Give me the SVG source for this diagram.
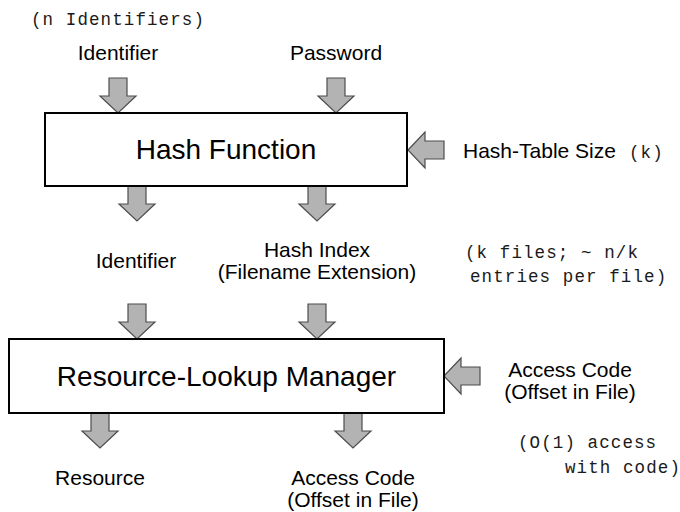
<svg xmlns="http://www.w3.org/2000/svg" xmlns:xlink="http://www.w3.org/1999/xlink" width="680" height="512" viewBox="0 0 680 512">
  <style>
    .box { fill: #ffffff; stroke: #000000; stroke-width: 2; }
    .title { font-family: "Liberation Sans", Arial, sans-serif; font-size: 28px; fill: #000000; text-anchor: middle; }
    .label { font-family: "Liberation Sans", Arial, sans-serif; font-size: 21px; fill: #000000; }
    .mid { text-anchor: middle; }
    .mono { font-family: "Liberation Mono", "Courier New", monospace; font-size: 17.5px; letter-spacing: 1.1px; fill: #1a1a1a; }
    .blk { fill: #b3b3b3; stroke: #4d4d4d; stroke-width: 1.2; stroke-linejoin: miter; }
  </style>
  <defs>
    <!-- block arrow pointing down, top edge at y=0, tip at y=35 -->
    <path id="arrowDown" d="M-9,0 H9 V18 H18 L0,35 L-18,18 H-9 Z"/>
    <!-- block arrow pointing left, tip at x=0 -->
    <path id="arrowLeft" d="M0,0 L17,-18 V-9 H36 V9 H17 V18 Z"/>
  </defs>
  <rect width="680" height="512" fill="#ffffff"/>

  <!-- block arrows -->
  <g id="connectors" class="blk">
    <use xlink:href="#arrowDown" transform="translate(118,78)"/>
    <use xlink:href="#arrowDown" transform="translate(336,78)"/>
    <use xlink:href="#arrowDown" transform="translate(137,186)"/>
    <use xlink:href="#arrowDown" transform="translate(317,186)"/>
    <use xlink:href="#arrowDown" transform="translate(137,304)"/>
    <use xlink:href="#arrowDown" transform="translate(317,304)"/>
    <use xlink:href="#arrowDown" transform="translate(100,413)"/>
    <use xlink:href="#arrowDown" transform="translate(353,413)"/>
    <use xlink:href="#arrowLeft" transform="translate(408,150)"/>
    <use xlink:href="#arrowLeft" transform="translate(444,376)"/>
  </g>

  <g id="hash-function">
    <rect class="box" x="45" y="113" width="362" height="73"/>
    <text class="title" x="226" y="159">Hash Function</text>
  </g>

  <g id="resource-lookup-manager">
    <rect class="box" x="9" y="339" width="435" height="74"/>
    <text class="title" x="226.5" y="386">Resource-Lookup Manager</text>
  </g>

  <g id="n-identifiers">
    <text class="mono" x="31" y="25">(n Identifiers)</text>
  </g>

  <g id="identifier-in">
    <text class="label mid" x="118" y="60">Identifier</text>
  </g>

  <g id="password-in">
    <text class="label mid" x="336" y="60">Password</text>
  </g>

  <g id="hash-table-size">
    <text class="label" x="463" y="158">Hash-Table Size</text>
    <text class="mono" x="629" y="158">(k)</text>
  </g>

  <g id="identifier-mid">
    <text class="label mid" x="136" y="268">Identifier</text>
  </g>

  <g id="hash-index">
    <text class="label mid" x="317" y="257">Hash Index</text>
    <text class="label mid" x="317" y="279">(Filename Extension)</text>
  </g>

  <g id="k-files">
    <text class="mono" x="465" y="258">(k files; ~ n/k</text>
    <text class="mono" x="470" y="282">entries per file)</text>
  </g>

  <g id="access-code-in">
    <text class="label mid" x="570" y="377">Access Code</text>
    <text class="label mid" x="570" y="399">(Offset in File)</text>
  </g>

  <g id="o1-access">
    <text class="mono" x="518" y="448">(O(1) access</text>
    <text class="mono" x="565" y="473">with code)</text>
  </g>

  <g id="resource-out">
    <text class="label mid" x="100" y="485">Resource</text>
  </g>

  <g id="access-code-out">
    <text class="label mid" x="353" y="485">Access Code</text>
    <text class="label mid" x="353" y="507">(Offset in File)</text>
  </g>
</svg>
